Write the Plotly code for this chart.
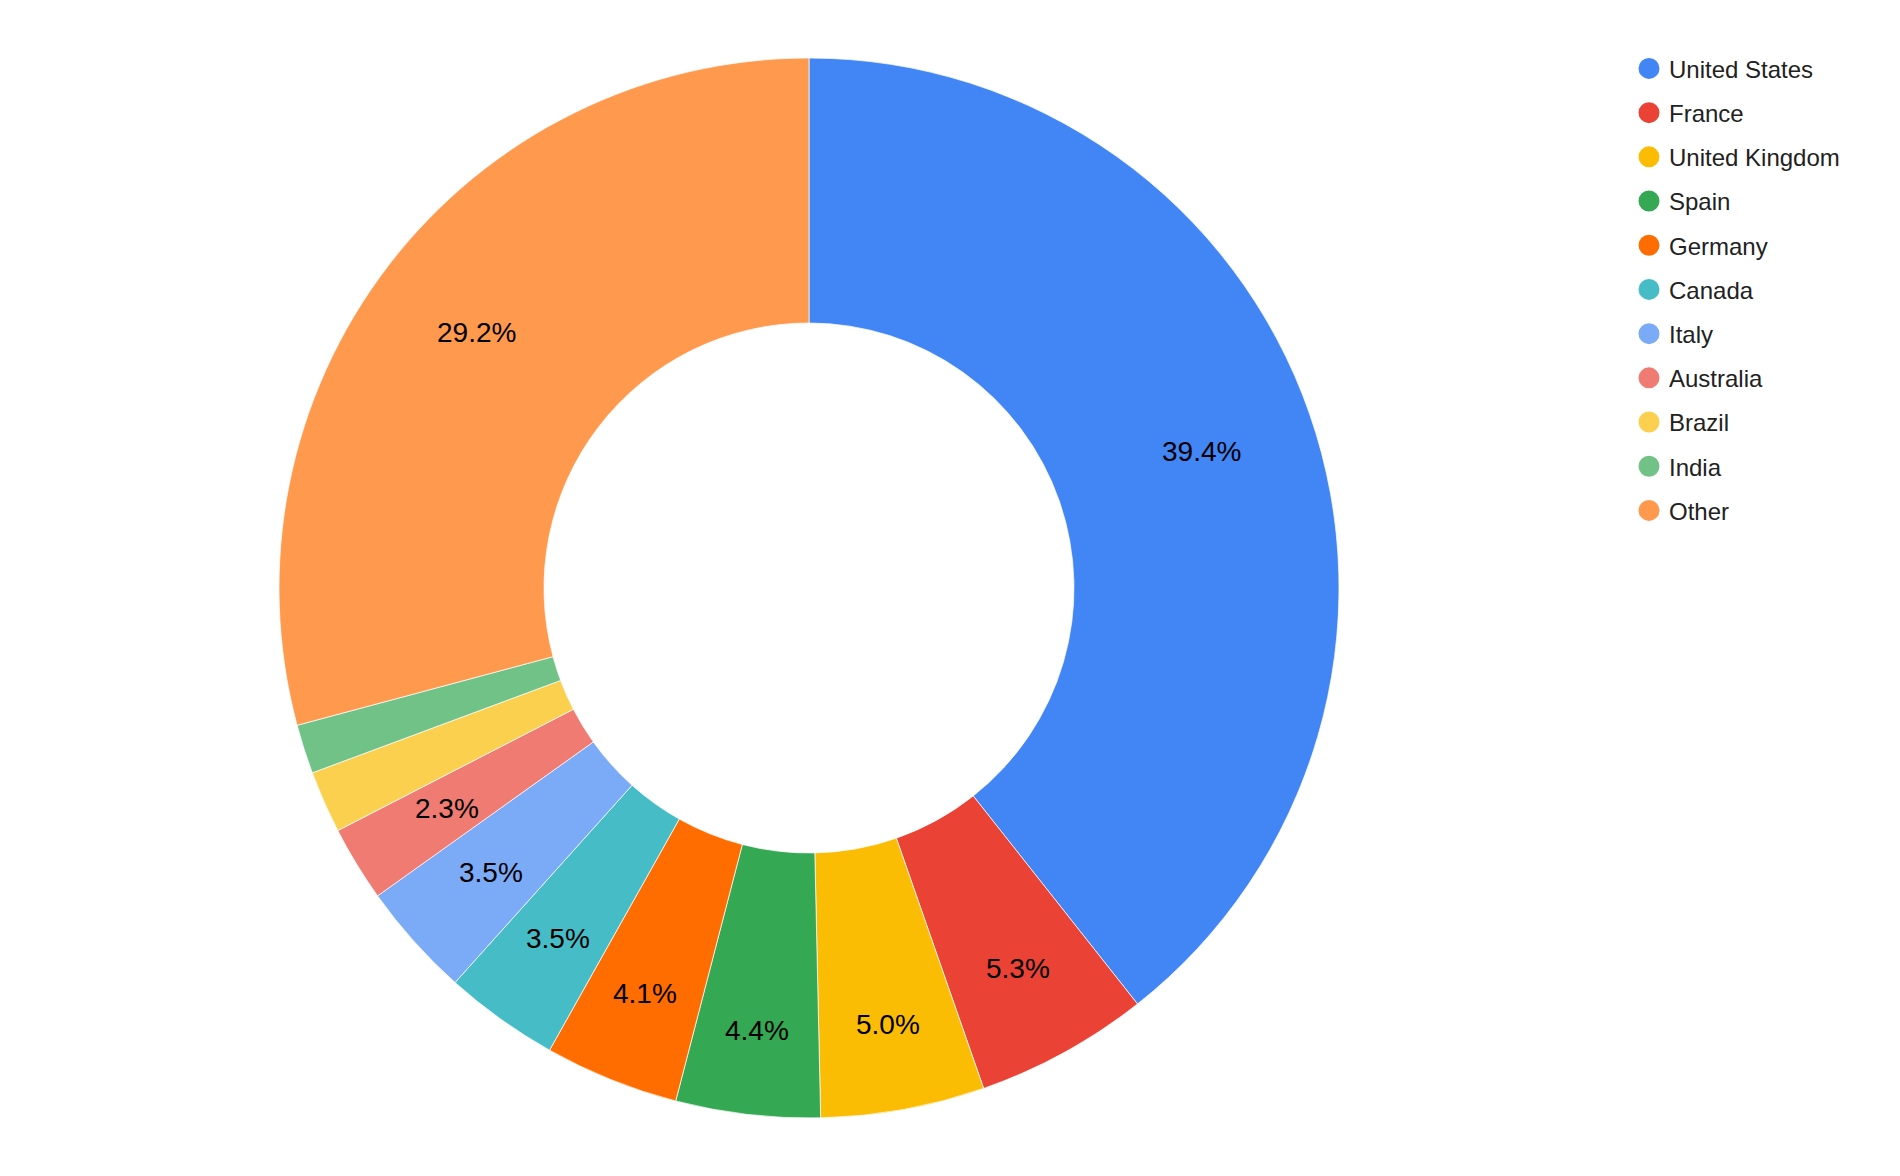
import math
import plotly.graph_objects as go

countries = ["United States", "France", "United Kingdom", "Spain", "Germany", "Canada",
             "Italy", "Australia", "Brazil", "India", "Other"]
shares = [39.4, 5.3, 5.0, 4.4, 4.1, 3.5, 3.5, 2.3, 1.9, 1.5, 29.2]
colors = ["#4285F4", "#EA4335", "#FBBC04", "#34A853", "#FF6D01", "#46BDC6",
          "#7BAAF7", "#F07B72", "#FCD04F", "#71C287", "#FF994D"]
min_labelled_share = 2.0

W, H = 1900, 1176
MT, MB = 58, 58
plot_h = H - MT - MB
dom_x = [279 / W, 1339 / W]
LABEL_SIZE = 28
label_outer = 0.857   # fraction of outer radius where the label box's outer edge sits
half_h = 5            # effective half text-box height (px)

# approximate Arial advance widths (em) for label characters
char_w = {d: 0.556 for d in "0123456789"}
char_w.update({".": 0.278, "%": 0.889})

fig = go.Figure()
fig.add_trace(go.Pie(
    labels=countries,
    values=shares,
    hole=0.5,
    sort=False,
    direction="clockwise",
    rotation=0,
    marker=dict(colors=colors, line=dict(color="white", width=0.7)),
    textinfo="none",
    showlegend=False,
    domain=dict(x=dom_x, y=[0, 1]),
    hoverinfo="label+percent",
))

total = sum(shares)
cx = (dom_x[0] + dom_x[1]) / 2
cy = 0.5
R_px = min((dom_x[1] - dom_x[0]) * W, plot_h) / 2
cum = 0.0
for s in shares:
    mid = (cum + s / 2) / total * 2 * math.pi
    cum += s
    if s < min_labelled_share:
        continue
    txt = f"{s / total * 100:.1f}%"
    half_w = sum(char_w[c] for c in txt) * LABEL_SIZE / 2
    r = R_px * label_outer - (half_w * abs(math.sin(mid)) + half_h * abs(math.cos(mid)))
    fig.add_annotation(
        x=cx + r * math.sin(mid) / W,
        y=cy + r * math.cos(mid) / plot_h,
        xref="paper", yref="paper",
        text=txt,
        showarrow=False,
        xanchor="center", yanchor="middle",
        font=dict(family="Liberation Sans, Arial, sans-serif", size=LABEL_SIZE, color="#000000"),
    )

for name, col in zip(countries, colors):
    fig.add_trace(go.Scatter(
        x=[None], y=[None], mode="markers", name=name,
        legendgroup=name,
        marker=dict(symbol="circle", size=16, color=col, line=dict(color=col, width=5)),
    ))

fig.update_layout(
    width=W, height=H,
    paper_bgcolor="white", plot_bgcolor="white",
    margin=dict(l=0, r=0, t=MT, b=MB),
    xaxis=dict(visible=False), yaxis=dict(visible=False),
    font=dict(family="Liberation Sans, Arial, sans-serif", color="#222222"),
    legend=dict(
        x=1629 / W, xanchor="left", y=1.011, yanchor="top",
        font=dict(size=24, color="#222222"),
        tracegroupgap=10,
        bgcolor="rgba(0,0,0,0)",
    ),
)

fig.write_html("out.html")
